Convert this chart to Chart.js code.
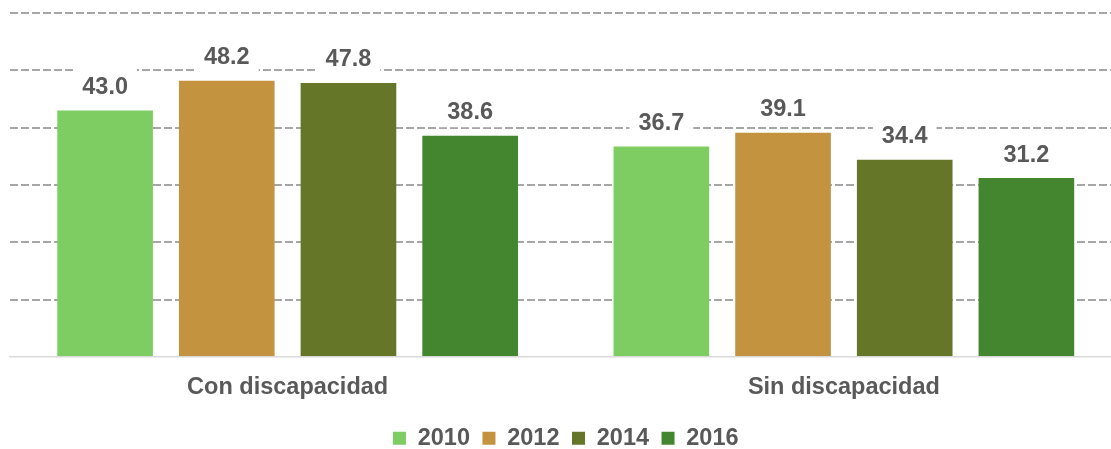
<!DOCTYPE html>
<html>
<head>
<meta charset="utf-8">
<script src="https://cdn.jsdelivr.net/npm/chart.js@4/dist/chart.umd.min.js"></script>
<style>
  html, body { margin: 0; padding: 0; background: #fff; overflow: hidden; }
  #marco { width: 1111px; height: 449px; overflow: hidden; position: relative; }
  #lienzo { position: absolute; left: 0; top: 0; width: 1122px; height: 460px; }
</style>
</head>
<body>
<div id="marco">
  <div id="lienzo"><canvas id="grafica" width="1122" height="460"></canvas></div>
</div>
<script>
// datos
var categorias = ["Con discapacidad", "Sin discapacidad"];
var anios = ["2010", "2012", "2014", "2016"];
var v2010 = [43.0, 36.7];
var v2012 = [48.2, 39.1];
var v2014 = [47.8, 34.4];
var v2016 = [38.6, 31.2];
var colores = ["#7dcd63", "#c49340", "#667628", "#44862f"];

var series = [v2010, v2012, v2014, v2016];
var fuente = "'Liberation Sans', Arial, sans-serif";
var gris = "#595959";

var datasets = [];
for (var i = 0; i < anios.length; i++) {
    datasets.push({
        label: anios[i],
        data: series[i],
        backgroundColor: colores[i],
        borderWidth: 0
    });
}

// etiquetas de valor con fondo blanco (tapan la linea de la reticula)
const etiquetas = {
    id: 'etiquetas',
    afterDatasetsDraw(chart) {
        const ctx = chart.ctx;
        ctx.save();
        ctx.font = "bold 23.5px " + fuente;
        ctx.textAlign = 'center';
        ctx.textBaseline = 'alphabetic';
        chart.data.datasets.forEach((ds, i) => {
            const meta = chart.getDatasetMeta(i);
            meta.data.forEach((bar, j) => {
                const txt = ds.data[j].toFixed(1);
                const w = ctx.measureText(txt).width;
                const base = bar.y - 16.5;
                ctx.fillStyle = '#ffffff';
                ctx.fillRect(bar.x - w / 2 - 9, base - 25, w + 18, 33);
                ctx.fillStyle = gris;
                ctx.fillText(txt, bar.x, base);
            });
        });
        ctx.restore();
    }
};

new Chart('grafica', {
    type: 'bar',
    data: { labels: categorias, datasets: datasets },
    options: {
        responsive: false,
        devicePixelRatio: 1,
        animation: false,
        layout: { padding: { left: 9.5, top: 13, right: 0, bottom: 0 } },
        datasets: {
            bar: { categoryPercentage: 0.875, barPercentage: 0.786 }
        },
        scales: {
            x: {
                grid: { display: false, drawTicks: false },
                border: { display: true, color: '#d9d9d9', width: 1.5 },
                ticks: { color: gris, font: { family: fuente, size: 23.5, weight: 'bold' }, padding: 16 },
                afterFit: (s) => { s.height = 57; }
            },
            y: {
                min: 0,
                max: 60,
                ticks: { display: false, stepSize: 10 },
                grid: {
                    drawTicks: false,
                    lineWidth: 2,
                    color: (c) => (c.tick && c.tick.value === 0) ? 'rgba(0,0,0,0)' : '#a6a6a6'
                },
                border: { display: false, dash: [8, 3] },
                afterFit: (s) => { s.width = 0; }
            }
        },
        plugins: {
            legend: {
                position: 'bottom',
                labels: {
                    boxWidth: 13,
                    boxHeight: 13,
                    padding: 12.5,
                    color: gris,
                    font: { family: fuente, size: 23.5, weight: 'bold' }
                }
            },
            tooltip: { enabled: false }
        }
    },
    plugins: [etiquetas]
});
</script>
</body>
</html>
